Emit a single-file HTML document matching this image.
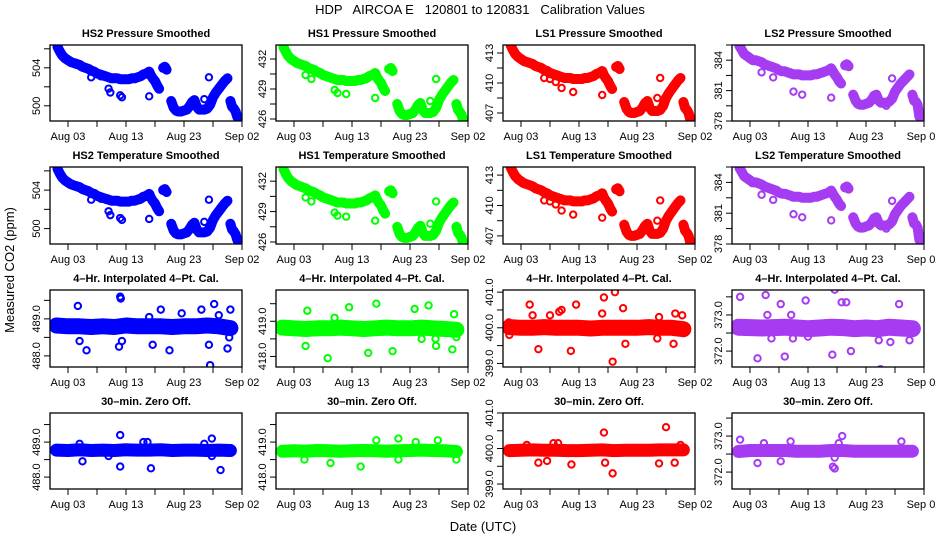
<!DOCTYPE html>
<html><head><meta charset="utf-8"><style>
body{margin:0;background:#fff}
svg{display:block;font-family:"Liberation Sans",Arial,sans-serif}
</style></head><body>
<svg id="fig" width="936" height="540" viewBox="0 0 936 540">
<text x="480" y="14" font-size="13" text-anchor="middle" xml:space="preserve">HDP   AIRCOA E   120801 to 120831   Calibration Values</text>
<text transform="translate(14,270) rotate(-90)" font-size="13" text-anchor="middle">Measured CO2 (ppm)</text>
<text x="483" y="531" font-size="13" text-anchor="middle">Date (UTC)</text>
</svg>
<script>
// ---- data ----
const days = [1.2,1.6,2,2.5,3,3.5,4,4.5,5,5.5,6,6.5,7,7.5,8,8.5,9,9.5,10,10.5,11,11.5,12,12.5,13,13.5,14,14.5,15,15.5,16,16.5,17,17.3,17.6,18,18.4,18.7,null,19.4,19.7,20,null,20.8,21.2,21.6,22,22.5,23,23.5,24,24.4,24.8,25.2,25.6,26,26.5,27,27.5,28,28.5,29,29.5,30,30.5,null,31,31.3,31.6,31.9,32.2];
const hs2Vals = [506.2,505.7,505.3,505,504.8,504.6,504.5,504.4,504.3,504.1,504,503.9,503.7,503.6,503.4,503.3,503.2,503.1,503,502.9,502.9,502.9,502.8,502.8,502.8,502.8,502.9,502.9,503,503.1,503.3,503.4,503.6,503.2,502.9,502.6,502.1,501.8,null,504,504.1,503.8,null,500.5,499.8,499.5,499.4,499.4,499.5,499.6,500,500.4,500.6,499.9,499.6,499.6,499.6,499.7,500.1,500.9,501.4,501.8,502.2,502.6,502.9,null,500.5,499.9,499.7,499.4,498.8];
const hs1Vals = [433.2,432.7,432.3,432,431.8,431.6,431.5,431.4,431.3,431.1,431,430.9,430.7,430.6,430.4,430.3,430.2,430.1,430,429.9,429.9,429.9,429.8,429.8,429.8,429.8,429.9,429.9,430,430.1,430.3,430.4,430.6,430.2,429.9,429.6,429.1,428.8,null,431,431.1,430.8,null,427.5,426.8,426.5,426.4,426.4,426.5,426.6,427,427.4,427.6,426.9,426.6,426.6,426.6,426.7,427.1,427.9,428.4,428.8,429.2,429.6,429.9,null,427.5,426.9,426.7,426.4,425.8];
const ls1Vals = [413.8,413.3,412.9,412.6,412.4,412.2,412.1,412.0,411.9,411.7,411.6,411.5,411.3,411.2,411.0,410.9,410.8,410.7,410.6,410.5,410.5,410.5,410.4,410.4,410.4,410.4,410.5,410.5,410.6,410.7,410.9,411.0,411.2,410.8,410.5,410.2,409.7,409.4,null,411.6,411.7,411.4,null,408.1,407.4,407.1,407.0,407.0,407.1,407.2,407.6,408.0,408.2,407.5,407.2,407.2,407.2,407.3,407.7,408.5,409.0,409.4,409.8,410.2,410.5,null,408.1,407.5,407.3,407.0,406.3];
const ls2Vals = [385.4,385.0,384.6,384.4,384.2,384.0,384.0,383.9,383.8,383.6,383.5,383.4,383.3,383.2,383.0,382.9,382.9,382.8,382.7,382.6,382.6,382.6,382.5,382.5,382.5,382.5,382.6,382.6,382.7,382.8,382.9,383.0,383.2,382.9,382.6,382.3,381.9,381.7,null,383.5,383.6,383.4,null,380.6,380.0,379.7,379.6,379.6,379.7,379.8,380.1,380.5,380.6,380.0,379.8,379.8,379.8,379.9,380.2,380.9,381.3,381.7,382.0,382.3,382.6,null,380.6,380.0,379.9,379.6,378.4];
const hs2Out = [[7,503],[8.7,503.1],[10,501.8],[10.3,501.4],[12,501.1],[12.3,500.9],[17,501],[26.5,500.7],[27.3,503]];
const hs1Out = [[5,430.4],[6,430],[10,428.9],[10.5,428.6],[12,428.5],[17,428.1],[26.5,427.8],[27.5,430]];
const ls1Out = [[7,410.5],[8,410.4],[9,410.1],[10,409.5],[12,409.1],[17,408.8],[27,410.5],[26.5,408.5]];
const ls2Out = [[7,382.3],[10.5,380.9],[12,380.6],[17,380.3],[27.5,382.2],[26.5,379.5],[5,382.8]];
const noiseDays = [1,3,5,7,9,11,13,15,17,19,21,23,25,27,29,31];
const hs2Cal = [488.82,488.8,488.8,488.78,488.8,488.78,488.82,488.8,488.8,488.8,488.78,488.8,488.8,488.82,488.8,488.75];
const hs1Cal = [418.82,418.8,418.78,418.8,418.8,418.82,418.8,418.78,418.8,418.82,418.8,418.8,418.82,418.8,418.78,418.76];
const ls1Cal = [400.02,400.0,400.0,400.02,400.0,400.0,400.0,399.98,400.0,400.0,400.0,400.0,400.02,400.0,400.0,399.96];
const ls2Cal = [372.66,372.65,372.64,372.65,372.66,372.64,372.62,372.64,372.66,372.65,372.62,372.64,372.62,372.66,372.64,372.62];
const hs2CalOut = [[4.7,489.35],[5,488.4],[6.2,488.15],[12,489.6],[12.1,489.55],[11.8,488.25],[12.3,488.4],[17,489.05],[17.6,488.3],[19,489.25],[20.5,488.15],[22.6,489.15],[26,489.25],[27.3,488.3],[27.5,487.75],[28.2,489.4],[29,489.1],[30.5,488.2],[31,489.25],[30.8,488.5]];
const hs1CalOut = [[5.3,419.3],[5,418.3],[8.8,417.95],[10,419.1],[12.5,419.4],[15.8,418.1],[17.2,419.5],[20,418.15],[23.8,419.35],[25,418.5],[26.2,419.45],[27.4,418.5],[27.5,418.3],[30.6,419.2],[31,418.55],[30.3,418.2]];
const ls1CalOut = [[0.9,400.15],[1,399.8],[4.5,400.65],[5,400.35],[6,399.4],[8,400.35],[9.6,400.45],[10,400.5],[11.6,399.35],[12.5,400.65],[17.3,400.85],[17,400.4],[18.8,399.05],[19.2,401.0],[20.6,400.55],[21,399.55],[26.5,399.7],[26.8,400.3],[29.6,400.4],[30.8,400.35],[29.3,399.55]];
const ls2CalOut = [[1.3,373.5],[4.3,371.8],[5.7,373.55],[6.7,372.35],[8.3,373.3],[9,371.85],[10.4,372.35],[12.6,373.4],[13,372.4],[17.2,371.9],[17.6,373.7],[18.9,373.78],[18.8,373.35],[19.6,373.35],[20.4,372.0],[25.2,372.3],[25.5,371.5],[27.2,372.25],[28.7,373.3],[30.5,372.3],[6,373],[10.1,373.0]];
const hs2Zero = [488.77,488.76,488.78,488.76,488.77,488.76,488.78,488.77,488.77,488.78,488.76,488.77,488.77,488.76,488.77,488.76];
const hs1Zero = [418.74,418.75,418.74,418.76,418.75,418.74,418.75,418.76,418.75,418.74,418.75,418.76,418.77,418.76,418.75,418.73];
const ls1Zero = [399.94,399.95,399.96,399.95,399.95,399.94,399.94,399.95,399.96,399.94,399.95,399.95,399.95,399.96,399.96,399.96];
const ls2Zero = [372.57,372.6,372.6,372.6,372.6,372.58,372.58,372.58,372.6,372.6,372.58,372.58,372.58,372.58,372.58,372.58];
const hs2ZeroOut = [[12,489.2],[16,489.0],[16.7,489.0],[5,488.95],[5.5,488.45],[12,488.3],[17.3,488.25],[29.3,488.2],[27.8,489.1],[26.5,488.95],[27.8,488.6],[10,488.6]];
const hs1ZeroOut = [[17.2,419.05],[21,419.1],[9.3,418.4],[14.5,418.3],[4.8,418.5],[21,418.5],[31,418.5],[24,419],[27.8,419.05]];
const ls1ZeroOut = [[17.3,400.45],[28,400.6],[17.5,399.6],[18.8,399.3],[6,399.6],[7.5,399.65],[11.7,399.55],[26.8,399.58],[29.5,399.6],[8.6,400.15],[9.4,400.15],[4,400.1],[30.5,400.1]];
const ls2ZeroOut = [[1.3,372.9],[5.4,372.8],[4.3,372.25],[8.3,372.3],[17.3,372.15],[17.6,372.1],[18.9,373.0],[17.6,372.4],[18.3,372.8],[29.1,372.85],[10,372.85]];
const xTickDays = [3,13,23,33];
const xTickLabels = ["Aug 03","Aug 13","Aug 23","Sep 02"];
const xMinorDays = [8,18,28];

// ---- layout ----
const NS="http://www.w3.org/2000/svg";
const svg=document.getElementById('fig');
const colL=[50,276,503,732], W=192;
const rowT=[45,167,290,413], rowH=[76,77,77,76];
const colors=['#0000ff','#00ff00','#ff0000','#a63cf2'];
const xDom=[-0.1,33];
const panels=[
 {r:0,c:0,t:'HS2 Pressure Smoothed',d:[498.4,506.4],ticks:[500,502,504,506],labs:[500,504],dig:0,kind:'trend',v:hs2Vals,o:hs2Out},
 {r:0,c:1,t:'HS1  Pressure Smoothed',d:[425.8,433.4],ticks:[426,427.5,429,430.5,432],labs:[426,429,432],dig:0,kind:'trend',v:hs1Vals,o:hs1Out},
 {r:0,c:2,t:'LS1 Pressure Smoothed',d:[406.2,413.8],ticks:[407,408.5,410,411.5,413],labs:[407,410,413],dig:0,kind:'trend',v:ls1Vals,o:ls1Out},
 {r:0,c:3,t:'LS2 Pressure Smoothed',d:[378,385.5],ticks:[378,379.5,381,382.5,384,385.5],labs:[378,381,384],dig:0,kind:'trend',v:ls2Vals,o:ls2Out},
 {r:1,c:0,t:'HS2 Temperature Smoothed',d:[498.4,506.4],ticks:[500,502,504,506],labs:[500,504],dig:0,kind:'trend',v:hs2Vals,o:hs2Out},
 {r:1,c:1,t:'HS1 Temperature Smoothed',d:[425.8,433.4],ticks:[426,427.5,429,430.5,432],labs:[426,429,432],dig:0,kind:'trend',v:hs1Vals,o:hs1Out},
 {r:1,c:2,t:'LS1 Temperature Smoothed',d:[406.2,413.8],ticks:[407,408.5,410,411.5,413],labs:[407,410,413],dig:0,kind:'trend',v:ls1Vals,o:ls1Out},
 {r:1,c:3,t:'LS2 Temperature Smoothed',d:[378,385.5],ticks:[378,379.5,381,382.5,384,385.5],labs:[378,381,384],dig:0,kind:'trend',v:ls2Vals,o:ls2Out},
 {r:2,c:0,t:'4\u2013Hr. Interpolated 4\u2013Pt. Cal.',d:[487.7,489.78],ticks:[488,488.5,489,489.5],labs:[488,489],dig:1,kind:'band',v:hs2Cal,o:hs2CalOut,bw:16},
 {r:2,c:1,t:'4\u2013Hr. Interpolated 4\u2013Pt. Cal.',d:[417.7,419.89],ticks:[418,418.5,419,419.5],labs:[418,419],dig:1,kind:'band',v:hs1Cal,o:hs1CalOut,bw:16},
 {r:2,c:2,t:'4\u2013Hr. Interpolated 4\u2013Pt. Cal.',d:[398.9,401.06],ticks:[399,399.5,400,400.5,401],labs:[399,400,401],dig:1,kind:'band',v:ls1Cal,o:ls1CalOut,bw:16},
 {r:2,c:3,t:'4\u2013Hr. Interpolated 4\u2013Pt. Cal.',d:[371.56,373.69],ticks:[372,372.5,373,373.5],labs:[372,373],dig:1,kind:'band',v:ls2Cal,o:ls2CalOut,bw:17},
 {r:3,c:0,t:'30\u2013min. Zero Off.',d:[487.66,489.83],ticks:[488,488.5,489,489.5],labs:[488,489],dig:1,kind:'band',v:hs2Zero,o:hs2ZeroOut,bw:13},
 {r:3,c:1,t:'30\u2013min. Zero Off.',d:[417.66,419.83],ticks:[418,418.5,419,419.5],labs:[418,419],dig:1,kind:'band',v:hs1Zero,o:hs1ZeroOut,bw:13},
 {r:3,c:2,t:'30\u2013min. Zero Off.',d:[398.86,401.0],ticks:[399,399.5,400,400.5,401],labs:[399,400,401],dig:1,kind:'band',v:ls1Zero,o:ls1ZeroOut,bw:13},
 {r:3,c:3,t:'30\u2013min. Zero Off.',d:[371.53,373.64],ticks:[372,372.5,373,373.5],labs:[372,373],dig:1,kind:'band',v:ls2Zero,o:ls2ZeroOut,bw:13}
];
function mk(tag,attrs,parent){const e=document.createElementNS(NS,tag);for(const k in attrs)e.setAttribute(k,attrs[k]);(parent||svg).appendChild(e);return e;}
panels.forEach((p,i)=>{
  const L=colL[p.c],T=rowT[p.r],H=rowH[p.r],B=T+H,col=colors[p.c];
  const xs=d=>L+(d-xDom[0])/(xDom[1]-xDom[0])*W;
  const ys=v=>B-(v-p.d[0])/(p.d[1]-p.d[0])*H;
  const g=mk('g',{});
  
  
  const cp=mk('clipPath',{id:'cp'+i},g);mk('rect',{x:L,y:T,width:W,height:H},cp);
  const t=mk('text',{x:L+W/2,y:T-8,'font-size':11,'font-weight':'bold','text-anchor':'middle'},g);
  t.textContent=p.t;
  
  
  const dg=mk('g',{'clip-path':'url(#cp'+i+')'},g);
  
  
  if(p.kind==='trend'){
    let seg=[];
    const flush=()=>{if(seg.length){const pl=mk('polyline',{points:seg.join(' '),fill:'none',stroke:col,'stroke-width':10,'stroke-linejoin':'round','stroke-linecap':'round'},dg);
      
      }seg=[];};
    days.forEach((d,k)=>{if(d===null||p.v[k]===null){flush();return;}seg.push(xs(d).toFixed(1)+','+ys(p.v[k]).toFixed(1));
      const c=mk('circle',{cx:xs(d),cy:ys(p.v[k]),r:3.2,fill:'none',stroke:col,'stroke-width':2},dg);
      
      });
    flush();
  } else {
    const pts=noiseDays.map((d,k)=>xs(d).toFixed(1)+','+ys(p.v[k]).toFixed(1));
    const pl=mk('polyline',{points:pts.join(' '),fill:'none',stroke:col,'stroke-width':p.bw,'stroke-linejoin':'round','stroke-linecap':'round'},dg);
    
    
  }
  p.o.forEach(q=>{const c=mk('circle',{cx:xs(q[0]),cy:ys(q[1]),r:3.2,fill:'none',stroke:col,'stroke-width':2},dg);
    
    });
  const box=mk('rect',{x:L,y:T,width:W,height:H,fill:'none',stroke:'#000','stroke-width':1.3},g);
  
  
  xTickDays.forEach((d,k)=>{mk('line',{x1:xs(d),x2:xs(d),y1:B,y2:B+6,stroke:'#000'},g);
    const tl=mk('text',{x:xs(d),y:B+19,'font-size':11,'text-anchor':'middle'},g);tl.textContent=xTickLabels[k];
    
    });
  xMinorDays.forEach(d=>mk('line',{x1:xs(d),x2:xs(d),y1:B,y2:B+6,stroke:'#000'},g));
  p.ticks.forEach(v=>{if(v<p.d[0]-0.01||v>p.d[1]+0.01)return;mk('line',{x1:L-6,x2:L,y1:ys(v),y2:ys(v),stroke:'#000'},g);});
  p.labs.forEach(v=>{const y=ys(v);const tl=mk('text',{transform:'translate('+(L-10)+','+y+') rotate(-90)','font-size':11,'text-anchor':'middle'},g);
    tl.textContent=v.toFixed(p.dig);
    
    });
});
</script>
</body></html>
